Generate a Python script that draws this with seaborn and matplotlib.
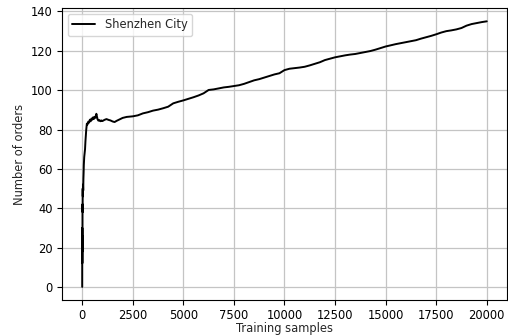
import matplotlib
matplotlib.use("Agg")
import matplotlib.pyplot as plt
import seaborn as sns
import pandas as pd

samples = [0, 2, 5, 8, 12, 16, 20, 25, 30, 40, 50, 60, 70, 80, 100, 120, 140, 160, 180, 200,
           230, 260, 300, 340, 380, 420, 460, 500, 540, 580, 620, 660, 700, 730, 760, 800,
           850, 900, 950, 1000, 1100, 1200, 1300, 1400, 1500, 1600, 1700, 1800, 1900, 2000,
           2200, 2500, 2750, 3000, 3250, 3500, 3750, 4000, 4250, 4500, 4750, 5000, 5250,
           5500, 5750, 6000, 6250, 6500, 6750, 7000, 7250, 7500, 7750, 8000, 8250, 8500,
           8750, 9000, 9250, 9500, 9750, 10000, 10250, 10500, 10750, 11000, 11250, 11500,
           11750, 12000, 12250, 12500, 12750, 13000, 13250, 13500, 13750, 14000, 14250,
           14500, 14750, 15000, 15250, 15500, 15750, 16000, 16250, 16500, 16750, 17000,
           17250, 17500, 17750, 18000, 18250, 18500, 18750, 19000, 19250, 19500, 19750, 20000]
orders = [0, 30, 12, 26, 18, 42, 38, 50, 46, 52, 49, 55, 58, 62, 66, 68, 70, 74, 77, 80,
          83, 82.5, 84, 83.5, 85, 84.2, 85.6, 85, 86.2, 85.4, 86.5, 86, 88, 86.5, 85.2, 84.5,
          84.8, 84.2, 84.6, 84.3, 84.9, 85.3, 84.9, 84.6, 84.1, 83.8, 84.4, 84.9, 85.4, 85.9,
          86.4, 86.7, 87.2, 88.2, 88.8, 89.6, 90.1, 90.8, 91.6, 93.3, 94.1, 94.8, 95.6,
          96.4, 97.3, 98.4, 100.1, 100.4, 100.9, 101.4, 101.7, 102.1, 102.5, 103.2, 104.1,
          105.0, 105.6, 106.4, 107.2, 108.0, 108.6, 110.2, 110.9, 111.2, 111.5, 111.9, 112.6,
          113.4, 114.2, 115.3, 116.0, 116.7, 117.2, 117.7, 118.1, 118.4, 118.9, 119.4, 119.9,
          120.6, 121.4, 122.2, 122.8, 123.4, 123.9, 124.4, 124.9, 125.4, 126.2, 126.9,
          127.6, 128.4, 129.3, 130.0, 130.4, 130.9, 131.6, 132.8, 133.6, 134.1, 134.6, 135.0]

df = pd.DataFrame({"Training samples": samples, "Number of orders": orders})

sns.set_style("white")
plt.rcParams['font.family'] = ['DejaVu Sans']

fig = plt.figure(figsize=(5.08, 3.35), dpi=100)
ax = fig.add_axes([0.122, 0.104, 0.876, 0.872])
sns.lineplot(data=df, x="Training samples", y="Number of orders", ax=ax,
             color="black", linewidth=1.4, label="Shenzhen City", estimator=None)
ax.grid(True, color="#c4c4c4", linewidth=0.9)
ax.set_xticks([0, 2500, 5000, 7500, 10000, 12500, 15000, 17500, 20000])
ax.set_yticks([0, 20, 40, 60, 80, 100, 120, 140])
ax.tick_params(axis="both", labelsize=8.3, length=3.5, width=0.8, direction="out",
               bottom=True, left=True, colors="black", pad=3)
ax.set_xlabel("Training samples", fontsize=8.3, labelpad=0)
ax.set_ylabel("Number of orders", fontsize=8.3, labelpad=4)
for s in ax.spines.values():
    s.set_color("black")
    s.set_linewidth(0.8)
ax.legend(loc="upper left", fontsize=8.3, frameon=True)
fig.savefig("out.png", dpi=100)
